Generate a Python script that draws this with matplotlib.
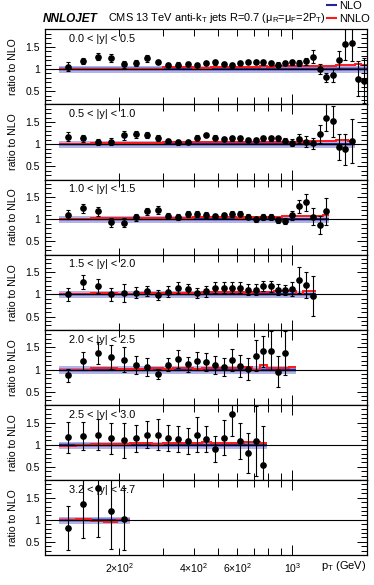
import matplotlib
matplotlib.use("Agg")
import matplotlib.pyplot as plt
import numpy as np
from matplotlib.ticker import FixedLocator, FixedFormatter, FuncFormatter
from matplotlib.lines import Line2D

plt.rcParams['font.family'] = ['Liberation Sans', 'DejaVu Sans']
plt.rcParams['mathtext.default'] = 'regular'

# CMS pT bin edges (GeV)
edges = [114, 133, 153, 174, 196, 220, 245, 272, 300, 330, 362, 395, 430, 468,
         507, 548, 592, 638, 686, 737, 790, 846, 905, 967, 1032, 1101, 1172,
         1248, 1327, 1410, 1497, 1588, 1684, 1784, 1890, 2000]

labels = ["0.0 < |y| < 0.5", "0.5 < |y| < 1.0", "1.0 < |y| < 1.5",
          "1.5 < |y| < 2.0", "2.0 < |y| < 2.5", "2.5 < |y| < 3.0",
          "3.2 < |y| < 4.7"]

# data / NLO
data = [
    [1.05, 1.18, 1.28, 1.24, 1.11, 1.14, 1.24, 1.16, 1.09, 1.10, 1.12, 1.09,
     1.13, 1.15, 1.12, 1.08, 1.13, 1.16, 1.16, 1.15, 1.13, 1.10, 1.13, 1.15,
     1.13, 1.18, 1.28, 1.00, 0.81, 0.86, 1.20, 1.56, 1.59, 0.78, 0.74],
    [1.17, 1.13, 1.04, 1.06, 1.20, 1.22, 1.21, 1.14, 1.07, 1.04, 1.05, 1.15,
     1.21, 1.15, 1.12, 1.13, 1.13, 1.10, 1.10, 1.13, 1.13, 1.13, 1.08, 1.03,
     1.12, 1.06, 1.02, 1.23, 1.60, 1.52, 0.94, 0.88, 1.08],
    [1.10, 1.25, 1.18, 0.93, 0.92, 1.05, 1.18, 1.21, 1.08, 1.05, 1.12, 1.12,
     1.10, 1.07, 1.09, 1.12, 1.13, 1.06, 1.00, 1.05, 1.06, 0.98, 0.96, 1.09,
     1.29, 1.38, 1.06, 0.87, 1.18],
    [1.00, 1.28, 1.19, 1.00, 1.03, 1.04, 1.08, 0.99, 1.06, 1.15, 1.12, 1.03,
     1.07, 1.15, 1.15, 1.15, 1.15, 1.11, 1.11, 1.19, 1.18, 1.11, 1.10, 1.12,
     1.33, 1.21, 0.96],
    [0.87, 1.19, 1.38, 1.28, 1.22, 1.10, 1.05, 0.90, 1.11, 1.24, 1.12, 1.19,
     1.17, 1.11, 1.05, 1.22, 1.08, 1.02, 1.31, 1.41, 1.43, 0.95, 1.38, np.nan],
    [1.17, 1.20, 1.22, 1.14, 1.10, 1.14, 1.23, 1.23, 1.15, 1.13, 1.08, 1.23,
     1.13, 0.90, 1.16, 1.70, 1.08, 0.82, 1.08, 0.53],
    [0.82, 1.35, 1.72, 1.21, 1.02],
]

data_err = [
    [0.10, 0.07, 0.08, 0.09, 0.08, 0.07, 0.07, 0.05, 0.05, 0.05, 0.05, 0.05,
     0.05, 0.05, 0.05, 0.05, 0.05, 0.05, 0.05, 0.05, 0.05, 0.05, 0.05, 0.06,
     0.07, 0.08, 0.15, 0.12, 0.10, 0.15, 0.20, 0.35, 0.40, 0.40, 0.50],
    [0.10, 0.07, 0.07, 0.07, 0.10, 0.08, 0.07, 0.06, 0.05, 0.05, 0.05, 0.05,
     0.05, 0.05, 0.05, 0.05, 0.05, 0.05, 0.05, 0.05, 0.05, 0.06, 0.07, 0.08,
     0.10, 0.12, 0.12, 0.20, 0.30, 0.35, 0.30, 0.35, 0.50],
    [0.10, 0.10, 0.10, 0.10, 0.10, 0.08, 0.08, 0.08, 0.06, 0.07, 0.06, 0.06,
     0.06, 0.06, 0.06, 0.06, 0.06, 0.06, 0.06, 0.07, 0.07, 0.07, 0.07, 0.10,
     0.15, 0.20, 0.20, 0.20, 0.30],
    [0.15, 0.15, 0.15, 0.15, 0.20, 0.13, 0.12, 0.12, 0.12, 0.12, 0.12, 0.12,
     0.12, 0.12, 0.12, 0.12, 0.12, 0.12, 0.12, 0.12, 0.12, 0.12, 0.12, 0.15,
     0.30, 0.30, 0.45],
    [0.15, 0.20, 0.25, 0.27, 0.28, 0.20, 0.20, 0.12, 0.15, 0.20, 0.17, 0.20,
     0.20, 0.20, 0.20, 0.25, 0.25, 0.25, 0.35, 0.35, 0.45, 0.35, 0.50, 0.0],
    [0.35, 0.32, 0.35, 0.35, 0.40, 0.30, 0.30, 0.35, 0.30, 0.30, 0.30, 0.40,
     0.30, 0.30, 0.40, 0.50, 0.40, 0.45, 0.80, 0.90],
    [0.50, 0.77, 1.10, 0.87, 0.70],
]

# NNLO / NLO
nnlo = [
    [1.01, 1.01, 1.01, 1.01, 1.01, 1.01, 1.01, 1.01, 1.05, 1.05, 1.05, 1.03,
     1.03, 1.04, 1.05, 1.05, 1.05, 1.05, 1.05, 1.06, 1.05, 1.06, 1.06, 1.06,
     1.07, 1.06, 1.07, 1.06, 1.06, 1.07, 1.09, 1.08, 1.08, 1.11, 1.09],
    [1.01, 1.01, 1.02, 1.02, 1.02, 1.03, 1.03, 1.03, 1.05, 1.05, 1.05, 1.04,
     1.04, 1.05, 1.06, 1.05, 1.05, 1.06, 1.05, 1.06, 1.05, 1.06, 1.06, 1.05,
     1.06, 1.07, 1.07, 1.07, 1.07, 1.07, 1.09, 1.10, 1.08],
    [1.01, 1.01, 1.03, 1.03, 1.03, 1.04, 1.03, 1.04, 1.04, 1.04, 1.04, 1.05,
     1.05, 1.05, 1.05, 1.05, 1.04, 1.05, 1.05, 1.06, 1.05, 1.06, 1.07,
     1.07, 1.07, 1.07, 1.08, 1.08, 1.10],
    [1.02, 1.02, 1.04, 1.04, 1.02, 1.02, 1.03, 1.03, 1.04, 1.04, 1.04, 1.03,
     1.05, 1.05, 1.05, 1.05, 1.05, 1.03, 1.06, 1.06, 1.06, 1.07, 1.07, 1.08,
     1.02, 1.08, 1.08],
    [1.00, 1.00, 1.03, 1.03, 1.01, 1.02, 1.02, 1.03, 1.02, 1.03, 1.03, 1.02,
     1.04, 1.04, 1.04, 1.03, 1.04, 1.05, 0.98, 1.10, 1.04, 1.04, 1.03, 1.05],
    [0.96, 1.00, 1.01, 1.02, 1.02, 1.03, 1.03, 1.02, 1.03, 1.04, 1.04, 1.03,
     1.05, 1.04, 1.04, 1.04, 1.03, 1.05, 1.06, 1.04],
    [1.00, 1.02, 0.98, 0.96, 1.00],
]

# NLO scale band (ratio), outer and inner
nlo_outer = (0.91, 1.07)
nlo_inner = (0.955, 1.035)
nnlo_band = 0.015

fig = plt.figure(figsize=(3.74, 5.85), dpi=100)
axes = fig.subplots(7, 1, sharex=True)
fig.subplots_adjust(left=0.12, right=0.981, top=0.950, bottom=0.051, hspace=0)

for i, ax in enumerate(axes):
    n = len(data[i])
    e = np.array(edges[:n + 1], dtype=float)
    ctr = 0.5 * (e[:-1] + e[1:])
    ones = np.ones(n)
    ax.stairs(ones * nlo_outer[1], e, baseline=ones * nlo_outer[0], fill=True,
              color=(0.70, 0.70, 0.91), lw=0)
    ax.stairs(ones * nlo_inner[1], e, baseline=ones * nlo_inner[0], fill=True,
              color=(0.52, 0.52, 0.84), lw=0)
    ax.axhline(1.0, color='black', lw=0.8)
    ax.stairs(ones, e, baseline=None, color=(0.1, 0.1, 0.5), lw=1.2)
    nn = np.array(nnlo[i])
    ax.stairs(nn + nnlo_band, e, baseline=nn - nnlo_band, fill=True,
              color=(1.0, 0.45, 0.45), alpha=0.6, lw=0)
    ax.stairs(nn, e, baseline=None, color='#ff1a1a', lw=1.4)
    ax.errorbar(ctr, data[i], yerr=data_err[i], fmt='o', color='black',
                ms=3.8, elinewidth=0.8, capsize=1.3, capthick=0.8)

    ax.set_xscale('log')
    ax.set_xlim(100, 2000)
    ax.set_ylim(0.2, 1.9)
    ax.yaxis.set_major_locator(FixedLocator([0.5, 1.0, 1.5]))
    ax.yaxis.set_major_formatter(FixedFormatter(['0.5', '1', '1.5']))
    ax.yaxis.set_minor_locator(FixedLocator(np.arange(0.3, 1.9, 0.1)))
    ax.xaxis.set_major_locator(FixedLocator([100, 1000]))
    ax.xaxis.set_minor_locator(FixedLocator([200, 300, 400, 500, 600, 700, 800, 900, 2000]))
    ax.tick_params(which='both', direction='in', top=True, right=True,
                   labelsize=7.5, width=0.7)
    ax.tick_params(which='major', length=7)
    ax.tick_params(which='minor', length=4)
    ax.tick_params(axis='x', which='minor', length=5)
    for s in ax.spines.values():
        s.set_linewidth(0.9)
    ax.set_ylabel('ratio to NLO', fontsize=7.6)
    ax.yaxis.set_label_coords(-0.085, 0.5)
    ax.text(0.075, 0.87, labels[i], transform=ax.transAxes, fontsize=7.8,
            va='center', ha='left')

bot = axes[-1]
bot.xaxis.set_major_formatter(FixedFormatter(['', '$10^3$']))
minor_lab = {200: '$2{\\times}10^2$', 400: '$4{\\times}10^2$', 600: '$6{\\times}10^2$'}
bot.xaxis.set_minor_formatter(FuncFormatter(lambda v, p: minor_lab.get(int(round(v)), '')))
bot.tick_params(axis='x', which='both', labelsize=7.5, pad=4)
fig.text(0.981, 0.032, 'p$_T$ (GeV)', ha='right', va='center', fontsize=8)

fig.text(0.115, 0.957, 'NNLOJET', fontsize=8.5, fontweight='bold', style='italic',
         ha='left', va='bottom')
fig.text(0.289, 0.958, 'CMS 13 TeV anti-k$_T$ jets R=0.7 ($\\mu_R$=$\\mu_F$=2P$_T$)',
         fontsize=7.9, ha='left', va='bottom')

handles = [Line2D([], [], color=(0.15, 0.15, 0.6), lw=1.5),
           Line2D([], [], color='#ff1a1a', lw=1.5)]
fig.legend(handles, ['NLO', 'NNLO'], loc='upper right', bbox_to_anchor=(1.01, 1.012),
           frameon=False, fontsize=8, handlelength=0.8, handletextpad=0.3,
           labelspacing=0.3, borderpad=0.2)

fig.savefig('out.png', dpi=100)
